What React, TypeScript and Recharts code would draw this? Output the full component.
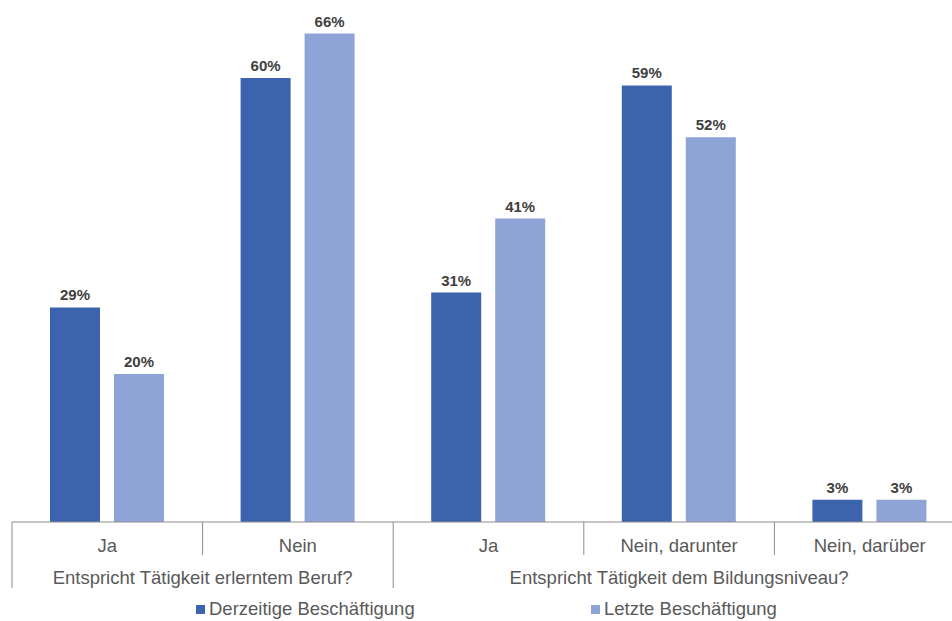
import React from 'react';
import { BarChart, Bar, XAxis, YAxis, LabelList, Legend } from 'recharts';

const categories = ['Ja', 'Nein', 'Ja', 'Nein, darunter', 'Nein, darüber'];
const groupLabels = ['Entspricht Tätigkeit erlerntem Beruf?', 'Entspricht Tätigkeit dem Bildungsniveau?'];
const groupSizes = [2, 3];
const currentJob = [29, 60, 31, 59, 3];
const lastJob = [20, 66, 41, 52, 3];
const seriesNames = ['Derzeitige Beschäftigung', 'Letzte Beschäftigung'];

const DARK = '#3b63ae';
const LIGHT = '#8fa4d6';
const TEXT = '#595959';
const LINE = '#8c8c8c';

// layout constants
const CHART_W = 965;
const CHART_H = 621;
const MARGIN_LEFT = 12;
const PLOT_W = CHART_W - MARGIN_LEFT;
const STEP = PLOT_W / categories.length;
const AXIS_H = 69;
const LEGEND_H = 30;
const AXIS_Y = CHART_H - AXIS_H - LEGEND_H;

const data = categories.map((cat, i) => ({
  cat,
  current: currentJob[i],
  last: lastJob[i],
}));

const groupStarts: number[] = [];
groupSizes.reduce((acc, n) => {
  groupStarts.push(acc);
  return acc + n;
}, 0);

const CategoryTick = (props: any) => {
  const { x, payload } = props;
  const i = payload.index;
  const left = x - STEP / 2;
  const gi = groupStarts.indexOf(i);
  const isStart = gi >= 0;
  const isLast = i === categories.length - 1;
  return (
    <g>
      <line x1={left} x2={left} y1={AXIS_Y} y2={isStart ? AXIS_Y + 66 : AXIS_Y + 33} stroke={LINE} strokeWidth={1} />
      {isLast && (
        <line x1={x + STEP / 2} x2={x + STEP / 2} y1={AXIS_Y} y2={AXIS_Y + 66} stroke={LINE} strokeWidth={1} />
      )}
      <text x={x} y={AXIS_Y + 30} textAnchor="middle" fill={TEXT} fontSize={18.5}>
        {payload.value}
      </text>
      {isStart && (
        <text x={left + (groupSizes[gi] * STEP) / 2} y={AXIS_Y + 62} textAnchor="middle" fill={TEXT} fontSize={18.5}>
          {groupLabels[gi]}
        </text>
      )}
    </g>
  );
};

const legendOffsets = [184, 579];

const CustomLegend = (props: any) => {
  const { payload } = props;
  return (
    <div style={{ position: 'relative', height: LEGEND_H }}>
      {(payload || []).map((entry: any, i: number) => (
        <div
          key={entry.value}
          style={{
            position: 'absolute',
            left: legendOffsets[i],
            top: 7,
            display: 'flex',
            alignItems: 'center',
            fontSize: 18.5,
            lineHeight: '22px',
            color: TEXT,
            whiteSpace: 'nowrap',
          }}
        >
          <span style={{ width: 9, height: 9, background: entry.color, marginRight: 4, display: 'inline-block' }} />
          {entry.value}
        </div>
      ))}
    </div>
  );
};

export default function App() {
  return (
    <div style={{ width: 952, height: 621, overflow: 'hidden', background: '#fff', fontFamily: '"Liberation Sans", Arial, sans-serif' }}>
      <style>{`body{margin:0}`}</style>
      <BarChart
        width={CHART_W}
        height={CHART_H}
        data={data}
        margin={{ top: 4, right: 0, left: MARGIN_LEFT, bottom: 0 }}
        barGap={14}
        barSize={50}
      >
        <XAxis
          dataKey="cat"
          height={AXIS_H}
          tickLine={false}
          axisLine={{ stroke: LINE }}
          tick={<CategoryTick />}
          interval={0}
        />
        <YAxis hide domain={[0, 70]} />
        <Legend verticalAlign="bottom" height={LEGEND_H} content={<CustomLegend />} />
        <Bar dataKey="current" name={seriesNames[0]} fill={DARK} isAnimationActive={false}>
          <LabelList
            dataKey="current"
            position="top"
            offset={7}
            formatter={(v: any) => `${v}%`}
            style={{ fill: '#404040', fontSize: 15, fontWeight: 700 }}
          />
        </Bar>
        <Bar dataKey="last" name={seriesNames[1]} fill={LIGHT} isAnimationActive={false}>
          <LabelList
            dataKey="last"
            position="top"
            offset={7}
            formatter={(v: any) => `${v}%`}
            style={{ fill: '#404040', fontSize: 15, fontWeight: 700 }}
          />
        </Bar>
      </BarChart>
    </div>
  );
}
